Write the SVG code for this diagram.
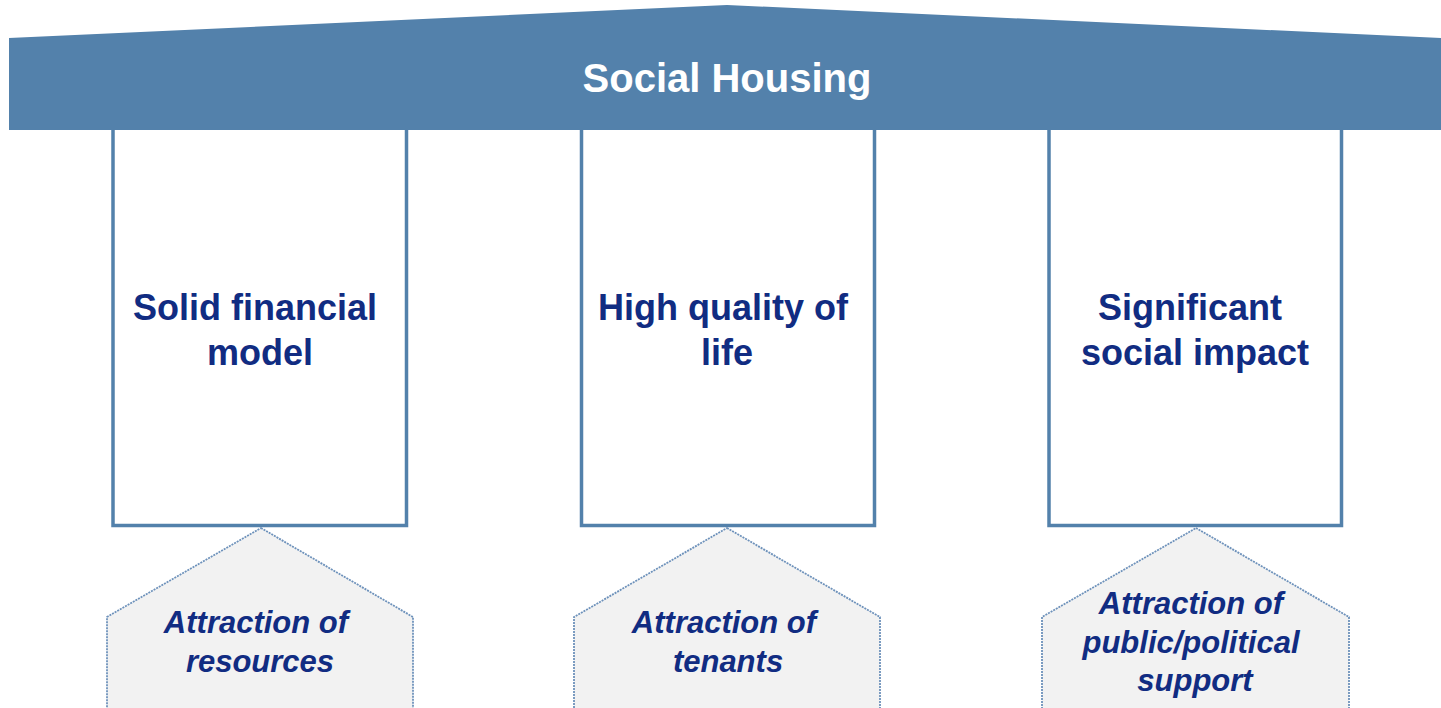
<svg xmlns="http://www.w3.org/2000/svg" width="1441" height="708" viewBox="0 0 1441 708">
<style>
.roof{fill:#5381AB}
.pillar{fill:#FFFFFF;stroke:#5381AB;stroke-width:3.5}
.base{fill:#F2F2F2;stroke:#6E92BB;stroke-width:1.8;stroke-dasharray:2 1}
.title{font-family:"Liberation Sans",Arial,sans-serif;font-weight:bold;font-size:40px;fill:#FFFFFF;text-anchor:middle}
.ptxt{font-family:"Liberation Sans",Arial,sans-serif;font-weight:bold;font-size:36px;fill:#112C82;text-anchor:middle}
.btxt{font-family:"Liberation Sans",Arial,sans-serif;font-weight:bold;font-style:italic;font-size:31px;fill:#112C82;text-anchor:middle}
</style>
<rect width="1441" height="708" fill="#FFFFFF"/>
<g id="pillar1">
<rect class="pillar" x="113" y="120" width="293.5" height="405.5"/>
<text class="ptxt" x="255" y="320">Solid financial</text>
<text class="ptxt" x="260" y="365">model</text>
</g>
<g id="pillar2">
<rect class="pillar" x="581.5" y="120" width="293" height="405.5"/>
<text class="ptxt" x="723" y="320">High quality of</text>
<text class="ptxt" x="727" y="365">life</text>
</g>
<g id="pillar3">
<rect class="pillar" x="1049" y="120" width="292.5" height="405.5"/>
<text class="ptxt" x="1190" y="320">Significant</text>
<text class="ptxt" x="1195" y="365">social impact</text>
</g>
<g id="roof">
<polygon class="roof" points="9,38 727,5 1441,38 1441,130 9,130"/>
<text class="title" x="727" y="92">Social Housing</text>
</g>
<g id="base1">
<polygon class="base" points="261,528 413,617 413,709 107,709 107,617"/>
<text class="btxt" x="256" y="633">Attraction of</text>
<text class="btxt" x="260" y="672">resources</text>
</g>
<g id="base2">
<polygon class="base" points="727,528 880,617 880,709 574,709 574,617"/>
<text class="btxt" x="724" y="633">Attraction of</text>
<text class="btxt" x="728" y="672">tenants</text>
</g>
<g id="base3">
<polygon class="base" points="1196,528 1349,617 1349,709 1042,709 1042,617"/>
<text class="btxt" x="1191" y="614">Attraction of</text>
<text class="btxt" x="1191" y="653">public/political</text>
<text class="btxt" x="1195" y="691">support</text>
</g>
<g id="connectors"/>
</svg>
